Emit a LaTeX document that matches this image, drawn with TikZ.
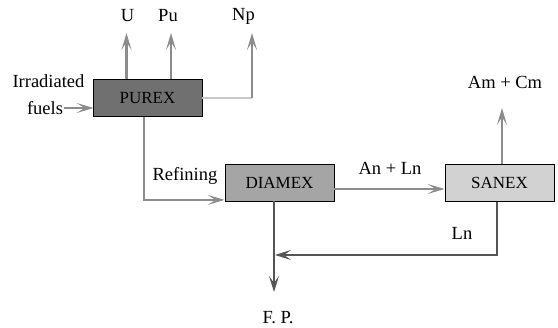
\documentclass[tikz,border=0pt]{standalone}
\usepackage{fontspec}
\setmainfont{Liberation Serif}
\usetikzlibrary{arrows.meta,positioning}
\definecolor{purexfill}{RGB}{112,112,112}
\definecolor{diamexfill}{RGB}{165,165,165}
\definecolor{sanexfill}{RGB}{210,210,210}
\definecolor{flowgrey}{RGB}{140,140,140}
\definecolor{paleline}{RGB}{200,200,200}
\definecolor{darkline}{RGB}{85,85,85}
\tikzstyle{procbox} = [draw=black, line width=0.8pt, rectangle, minimum width=109pt, minimum height=37pt, inner sep=0pt, font=\fontsize{17}{19}\selectfont]
\tikzstyle{flowlabel} = [inner sep=0pt, font=\fontsize{18.5}{20}\selectfont]
\tikzstyle{flow} = [draw=flowgrey, line width=2.2pt, -{Stealth[length=17pt,width=10pt,inset=8pt]}]
\tikzstyle{darkflow} = [draw=darkline, line width=2.5pt, -{Stealth[length=16pt,width=10pt,inset=7pt]}]

\begin{document}
\begin{tikzpicture}[x=1pt, y=-1pt]
\useasboundingbox (0,0) rectangle (558,328);
% process boxes
\node[procbox, fill=purexfill] (purex) at (147.5,98) {PUREX};
\node[procbox, fill=diamexfill] (diamex) at (279.5,182.5) {DIAMEX};
\node[procbox, fill=sanexfill] (sanex) at (499.5,183) {SANEX};
% labels
\node[flowlabel] (u) at (127.5,16) {U};
\node[flowlabel] (pu) at (168,16) {Pu};
\node[flowlabel] (np) at (243.5,16) {Np};
\node[flowlabel] (irr) at (48.5,81) {Irradiated};
\node[flowlabel] (fuels) at (45,108) {fuels};
\node[flowlabel] (refining) at (185,176) {Refining};
\node[flowlabel] (anln) at (390,168) {An + Ln};
\node[flowlabel] (amcm) at (505,82) {Am + Cm};
\node[flowlabel] (ln) at (462,233) {Ln};
\node[flowlabel] (fp) at (278,317.5) {F. P.};
% free ends
\coordinate (utip) at (126.5,33);
\coordinate (putip) at (171,33);
\coordinate (npcorner) at (252,98);
\coordinate (nptip) at (252,33);
\coordinate (amtip) at (502,108);
\coordinate (lnjoin) at (275,255);
\coordinate (fptip) at (274,292);
% flows
\draw[flow] (utip |- purex.north) -- (utip);
\draw[flow] (putip |- purex.north) -- (putip);
\draw[draw=paleline, line width=2.2pt] (purex.east) -- (npcorner);
\draw[flow] (npcorner) -- (nptip);
\draw[flow] ([xshift=1pt]fuels.east) -- ([xshift=1pt]fuels.east -| purex.west);
\draw[flow] ([xshift=-3.5pt]purex.south) |- ([yshift=1.5pt]diamex.south west);
\draw[flow] ([yshift=-6.5pt]diamex.east) -- ([yshift=-6.5pt]diamex.east -| sanex.west);
\draw[flow] (amtip |- sanex.north) -- (amtip);
\draw[darkflow, line width=2.8pt] ([xshift=-2.5pt]sanex.south) |- (lnjoin);
\draw[darkflow] (fptip |- diamex.south) -- (fptip);
\end{tikzpicture}
\end{document}
